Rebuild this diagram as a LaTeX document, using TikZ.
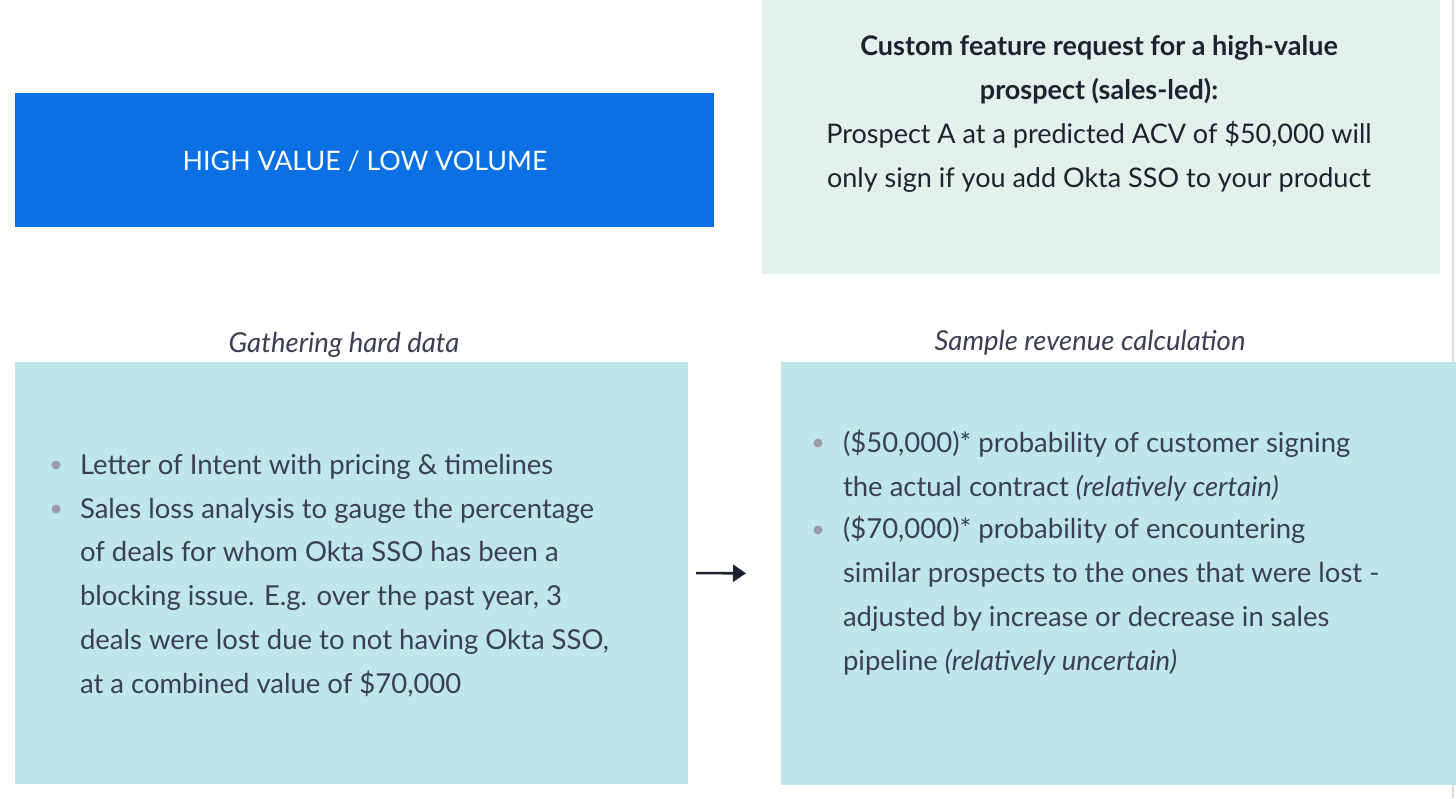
\documentclass[tikz,border=0pt]{standalone}
\usepackage{fontspec}
\setmainfont{Lato}
\usetikzlibrary{arrows.meta}
\definecolor{bluebox}{HTML}{0A70E4}
\definecolor{tealbox}{HTML}{BFE6E8}
\definecolor{greenbox}{HTML}{E2F1EC}
\definecolor{txt}{HTML}{3C3F54}
\definecolor{titletxt}{HTML}{1E2130}
\definecolor{dotc}{HTML}{9A9CA6}
\definecolor{edgeline}{HTML}{DADADA}
\tikzset{
  box/.style={inner sep=0pt, outer sep=0pt},
  body/.style={inner sep=0pt, outer sep=0pt, text=txt, align=left, anchor=base west, font=\fontsize{27.5}{43.7}\selectfont},
  caption/.style={inner sep=0pt, text=txt, font=\fontsize{27.5}{30}\selectfont\itshape, anchor=base},
  dot/.style={circle, fill=dotc, inner sep=0pt, minimum size=9pt},
  link/.style={line width=2.6pt, draw=titletxt, -{Triangle[length=13pt,width=17pt]}}
}
\begin{document}
\begin{tikzpicture}[x=1pt,y=-1pt]
\useasboundingbox (0,0) rectangle (1456,798);
\fill[white] (0,0) rectangle (1456,798);
\draw[edgeline, line width=1.5pt] (1453,0) -- (1453,798);
% boxes
\node[box, fill=bluebox, minimum width=699pt, minimum height=134pt, anchor=north west] (hv) at (15,93) {};
\node[box, fill=greenbox, minimum width=678pt, minimum height=274pt, anchor=north west] (req) at (762,0) {};
\node[box, fill=tealbox, minimum width=673pt, minimum height=422pt, anchor=north west] (gather) at (15,362) {};
\node[box, fill=tealbox, minimum width=675pt, minimum height=423pt, anchor=north west] (calc) at (781,362) {};
% arrow
\draw[link, shorten <=8pt, shorten >=35pt] (gather.east) -- (calc.west);
% texts (multi-line nodes are placed by the baseline of their last line)
\node[inner sep=0pt, text=white, font=\fontsize{26.8}{30}\selectfont, anchor=base] (hvt) at (365,170) {HIGH VALUE / LOW VOLUME};
\node[inner sep=0pt, text=titletxt, align=center, anchor=base, font=\fontsize{27}{44}\selectfont] (reqt) at (1099,187)
  {\textbf{Custom feature request for a high-value}\\ \textbf{prospect (sales-led):}\\ Prospect A at a predicted ACV of \$50,000 will\\ only sign if you add Okta SSO to your product};
\node[caption] (cap1) at (344,352) {Gathering hard data};
\node[caption] (cap2) at (1090,350) {Sample revenue calculation};
% left bullets
\node[dot] (d1) at (56,465) {};
\node[body] (b1) at (80,474) {Letter of Intent with pricing \& timelines};
\node[dot] (d2) at (56,509) {};
\node[body] (b2) at (80,693) {Sales loss analysis to gauge the percentage\\ of deals for whom Okta SSO has been a\\ blocking issue. E.g. over the past year, 3\\ deals were lost due to not having Okta SSO,\\ at a combined value of \$70,000};
% right bullets
\node[dot] (d3) at (818,443) {};
\node[body] (b3) at (843,496) {(\$50,000)* probability of customer signing\\ the actual contract \textit{(relatively certain)}};
\node[dot] (d4) at (818,530) {};
\node[body] (b4) at (843,670) {(\$70,000)* probability of encountering\\ similar prospects to the ones that were lost -\\ adjusted by increase or decrease in sales\\ pipeline \textit{(relatively uncertain)}};
\end{tikzpicture}
\end{document}
